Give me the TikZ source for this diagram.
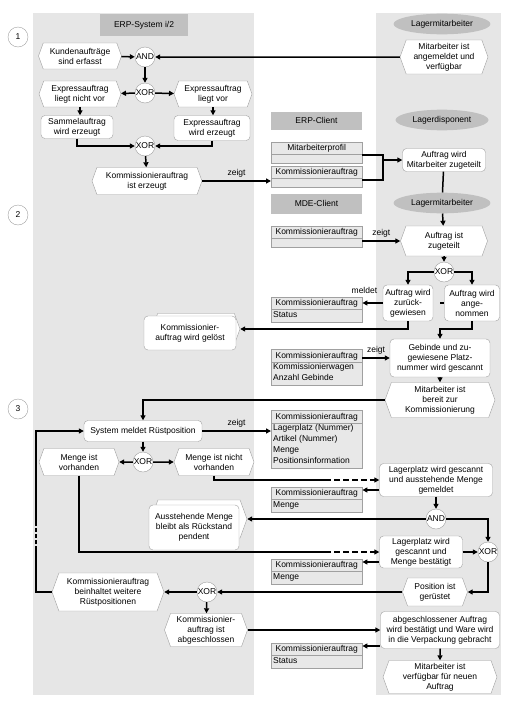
\documentclass[tikz,border=0pt]{standalone}
\usepackage{fontspec}
\setmainfont{Liberation Sans}
\usetikzlibrary{shapes.symbols,shapes.geometric,shapes.multipart,arrows.meta}

\definecolor{lanegray}{HTML}{E6E6E6}
\definecolor{headgray}{HTML}{C0C0C0}
\definecolor{edgegray}{HTML}{A0A0A0}
\definecolor{datgray}{HTML}{E8E8E8}

\begin{document}
\begin{tikzpicture}[x=1pt,y=-1pt,
    every node/.style={font=\fontsize{8.5}{10}\selectfont},
    event/.style={signal, signal to=east and west, signal pointer angle=140,
        draw=edgegray, fill=white, align=center, inner sep=1pt},
    func/.style={rectangle, rounded corners=4pt, draw=edgegray, fill=white,
        align=center, inner sep=1pt},
    conn/.style={circle, draw=edgegray, fill=white, minimum size=20pt, inner sep=0pt},
    role/.style={ellipse, fill=headgray, minimum width=93pt, minimum height=18pt},
    head/.style={fill=headgray, minimum width=91pt, minimum height=19pt},
    dat/.style={rectangle split, rectangle split parts=2, draw=edgegray, fill=datgray,
        minimum width=91pt, align=left, rectangle split part align={center,left},
        inner xsep=2pt, inner ysep=1pt, anchor=north west},
    num/.style={circle, draw=edgegray, fill=white, minimum size=20pt, inner sep=0pt},
    wire/.style={line width=1.5pt},
    flow/.style={line width=1.5pt, -{Triangle[length=5pt,width=5pt]}}]

    \useasboundingbox (0,0) rectangle (505,707);

    % Lanes
    \fill[lanegray] (33,13) rectangle (254,695);
    \fill[lanegray] (376,13) rectangle (501,695);

    % Headers and roles
    \node[head, minimum width=88pt, minimum height=22pt] (erphead) at (144,25) {ERP-System i/2};
    \node[head, minimum height=18pt] (erpclient) at (316.5,120.5) {ERP-Client};
    \node[head, minimum height=20pt] (mdeclient) at (316.5,203.5) {MDE-Client};
    \node[role] (lm1) at (442,24) {Lagermitarbeiter};
    \node[role] (ldisp) at (442,120) {Lagerdisponent};
    \node[role] (lm2) at (442,203) {Lagermitarbeiter};

    % Phase numbers
    \node[num] (num1) at (18,37) {1};
    \node[num] (num2) at (18,215) {2};
    \node[num] (num3) at (18,409) {3};

    % Phase 1
    \node[event, minimum width=83pt, minimum height=26pt] (kaerf) at (80,56) {Kundenaufträge\\sind erfasst};
    \node[conn] (and1) at (145,57) {AND};
    \node[event, minimum width=88pt, minimum height=34pt] (mangem) at (444,57) {Mitarbeiter ist\\angemeldet und\\verfügbar};
    \node[conn] (xor1) at (145,93) {XOR};
    \node[event, minimum width=82pt, minimum height=26pt] (exnicht) at (80,94) {Expressauftrag\\liegt nicht vor};
    \node[event, minimum width=78pt, minimum height=26pt] (exvor) at (213,94) {Expressauftrag\\liegt vor};
    \node[func, minimum width=72pt, minimum height=23pt] (sammel) at (77,127) {Sammelauftrag\\wird erzeugt};
    \node[func, minimum width=76pt, minimum height=25pt] (exerz) at (212,128) {Expressauftrag\\wird erzeugt};
    \node[conn] (xor2) at (145,146) {XOR};
    \node[event, minimum width=110pt, minimum height=27pt] (kaerz) at (147,181) {Kommissionierauftrag\\ist erzeugt};

    % ERP-Client data
    \node[dat] (maprof) at (271,142) {\strut Mitarbeiterprofil\nodepart{two}\rule{0pt}{6pt}};
    \node[dat] (erpka) at (271,166) {\strut Kommissionierauftrag\nodepart{two}\rule{0pt}{6pt}};
    \node[func, minimum width=83pt, minimum height=23pt] (zuteil) at (444,160) {Auftrag wird\\Mitarbeiter zugeteilt};
    \coordinate (join) at (383,160);

    % Phase 2
    \node[dat] (mdeka) at (271,226) {\strut Kommissionierauftrag\nodepart{two}\rule{0pt}{6pt}};
    \node[event, minimum width=87pt, minimum height=30pt] (zugeteilt) at (444,241) {Auftrag ist\\zugeteilt};
    \node[conn] (xor3) at (444,272) {XOR};
    \node[func, minimum width=50pt, minimum height=36pt] (zurueck) at (408,303) {Auftrag wird\\zurück-\\gewiesen};
    \node[func, minimum width=55pt, minimum height=36pt] (angen) at (472,303) {Auftrag wird\\ange-\\nommen};
    \node[dat] (status1) at (271,297) {\strut Kommissionierauftrag\nodepart{two}\strut Status};
    \node[event, minimum width=88pt, minimum height=31pt] (geloestbg) at (196,329) {};
    \node[func, minimum width=92pt, minimum height=34pt] (geloest) at (190,333) {Kommissionier-\\auftrag wird gelöst};
    \node[func, minimum width=100pt, minimum height=38pt] (gebinde) at (440,358) {Gebinde und zu-\\gewiesene Platz-\\nummer wird gescannt};
    \node[dat, font=\fontsize{8.5}{11}\selectfont] (wagen) at (271,349) {\strut Kommissionierauftrag\nodepart{two}Kommissionierwagen\\Anzahl Gebinde\strut};
    \node[event, minimum width=110pt, minimum height=35pt] (bereit) at (440,400) {Mitarbeiter ist\\bereit zur\\Kommissionierung};

    % Phase 3
    \node[func, minimum width=118pt, minimum height=21pt] (sysmeld) at (143,431) {System meldet Rüstposition};
    \node[dat, font=\fontsize{8.5}{11}\selectfont] (lagerbox) at (271,410) {\strut Kommissionierauftrag\nodepart{two}Lagerplatz (Nummer)\\Artikel (Nummer)\\Menge\\Positionsinformation\strut};
    \node[conn] (xor4) at (143,462) {XOR};
    \node[event, minimum width=80pt, minimum height=27pt] (mvorh) at (79,462) {Menge ist\\vorhanden};
    \node[event, minimum width=80pt, minimum height=27pt] (mnicht) at (214,462) {Menge ist nicht\\vorhanden};
    \node[func, minimum width=113pt, minimum height=33pt] (lpaus) at (436,480) {Lagerplatz wird gescannt\\und ausstehende Menge\\gemeldet};
    \node[dat] (menge1) at (271,487) {\strut Kommissionierauftrag\nodepart{two}\strut Menge};
    \node[conn] (and2) at (436,519) {AND};
    \node[event, minimum width=96pt, minimum height=38pt] (ausstbg) at (199,519) {};
    \node[func, minimum width=90pt, minimum height=45pt] (ausst) at (194,527.5) {Ausstehende Menge\\bleibt als Rückstand\\pendent};
    \node[func, minimum width=83pt, minimum height=32pt] (lpbest) at (421,552) {Lagerplatz wird\\gescannt und\\Menge bestätigt};
    \node[conn] (xor5) at (488,552) {XOR};
    \node[dat] (menge2) at (271,559) {\strut Kommissionierauftrag\nodepart{two}\strut Menge};
    \node[event, minimum width=65pt, minimum height=28pt] (gerust) at (435,592) {Position ist\\gerüstet};
    \node[conn] (xor6) at (207,592) {XOR};
    \node[event, minimum width=112pt, minimum height=38pt] (weitere) at (108,592) {Kommissionierauftrag\\beinhaltet weitere\\Rüstpositionen};
    \node[event, minimum width=83pt, minimum height=33pt] (abgesch) at (206,630) {Kommissionier-\\auftrag ist\\abgeschlossen};
    \node[func, minimum width=119pt, minimum height=37pt] (bestaet) at (440,630) {abgeschlossener Auftrag\\wird bestätigt und Ware wird\\in die Verpackung gebracht};
    \node[dat] (status2) at (271,643) {\strut Kommissionierauftrag\nodepart{two}\strut Status};
    \node[event, minimum width=114pt, minimum height=33pt] (verfueg) at (440,677) {Mitarbeiter ist\\verfügbar für neuen\\Auftrag};

    \coordinate (dash1) at (325,480);
    \coordinate (dash2) at (325,552);
    \coordinate (loopdown) at (36,550);
    \coordinate (loopup) at (36,523);

    % Connectors phase 1
    \draw[flow] (kaerf) -- (and1);
    \draw[flow] (mangem) -- (and1);
    \draw[flow] (and1) -- (xor1);
    \draw[flow] (xor1) -- (exnicht);
    \draw[flow] (xor1) -- (exvor);
    \draw[flow] (exnicht.south) -- (exnicht.south |- sammel.north);
    \draw[flow] (exvor.south) -- (exvor.south |- exerz.north);
    \draw[flow] (sammel.south) |- (xor2.west);
    \draw[flow] (exerz.south) |- (xor2.east);
    \draw[flow] (xor2) -- (kaerz);
    \draw[flow] (kaerz.east) -- (kaerz.east -| erpka.west) node[midway, above] {zeigt};
    \draw[wire] ([yshift=-13pt]maprof.north east) -| (join) |- ([yshift=-14pt]erpka.north east);
    \draw[flow] (join) -- (zuteil.west);
    \draw[wire] (zuteil) -- (lm2);

    % Connectors phase 2
    \draw[flow] (lm2) -- (zugeteilt);
    \draw[flow] ([yshift=-15pt]mdeka.north east) -- (zugeteilt.west) node[midway, above] {zeigt};
    \draw[flow] (zugeteilt) -- (xor3);
    \draw[flow] (xor3.west) -| (zurueck.north);
    \draw[flow] (xor3.east) -| (angen.north);
    \draw[wire] ([xshift=-4pt]angen.west) -- (angen.west);
    \draw[flow] (zurueck.west) -- ([yshift=-6pt]status1.north east) node[pos=0.9, above=5pt] {meldet};
    \draw[flow] (zurueck.south) |- (geloestbg.east);
    \draw[flow] (angen.south) -- ++(0,8) -| (gebinde.north);
    \draw[flow] ([yshift=-9pt]wagen.north east) -- ([yshift=-9pt]wagen.north east -| gebinde.west) node[midway, above] {zeigt};
    \draw[flow] (gebinde) -- (bereit);
    \draw[flow] (bereit.west) -| (sysmeld.north);

    % Connectors phase 3
    \draw[flow] (sysmeld.east) -- (sysmeld.east -| lagerbox.west) node[midway, above] {zeigt};
    \draw[flow] (sysmeld) -- (xor4);
    \draw[flow] (xor4) -- (mvorh);
    \draw[flow] (xor4) -- (mnicht);
    \draw[wire] (mnicht.south) |- (dash1);
    \draw[flow, dash pattern=on 6pt off 3pt] (dash1) -- (lpaus.west);
    \draw[flow] ([yshift=-10pt]lpaus.west) -- ([yshift=-3pt]menge1.north east);
    \draw[flow] (lpaus) -- (and2);
    \draw[flow] (and2.west) -- (ausstbg.east);
    \draw[flow] (and2.east) -| (xor5.north);
    \draw[wire] (mvorh.south) |- (dash2);
    \draw[flow, dash pattern=on 6pt off 3pt] (dash2) -- (lpbest.west);
    \draw[flow] (lpbest.east) -- (xor5.west);
    \draw[flow] ([yshift=-10pt]lpbest.west) -- ([yshift=-3pt]menge2.north east);
    \draw[flow] (xor5.south) |- (gerust.east);
    \draw[flow] (gerust.west) -- (xor6.east);
    \draw[flow] (xor6.west) -- (weitere.east);
    \draw[wire] (weitere.west) -| (loopdown);
    \draw[wire, dash pattern=on 4pt off 2pt] (loopdown) -- (loopup);
    \draw[flow] (loopup) |- (sysmeld.west);
    \draw[flow] (xor6) -- (abgesch);
    \draw[flow] (abgesch.east) -- (bestaet.west);
    \draw[flow] ([yshift=-16pt]bestaet.west) -- ([yshift=-3pt]status2.north east);
    \draw[flow] (bestaet) -- (verfueg);
\end{tikzpicture}
\end{document}
